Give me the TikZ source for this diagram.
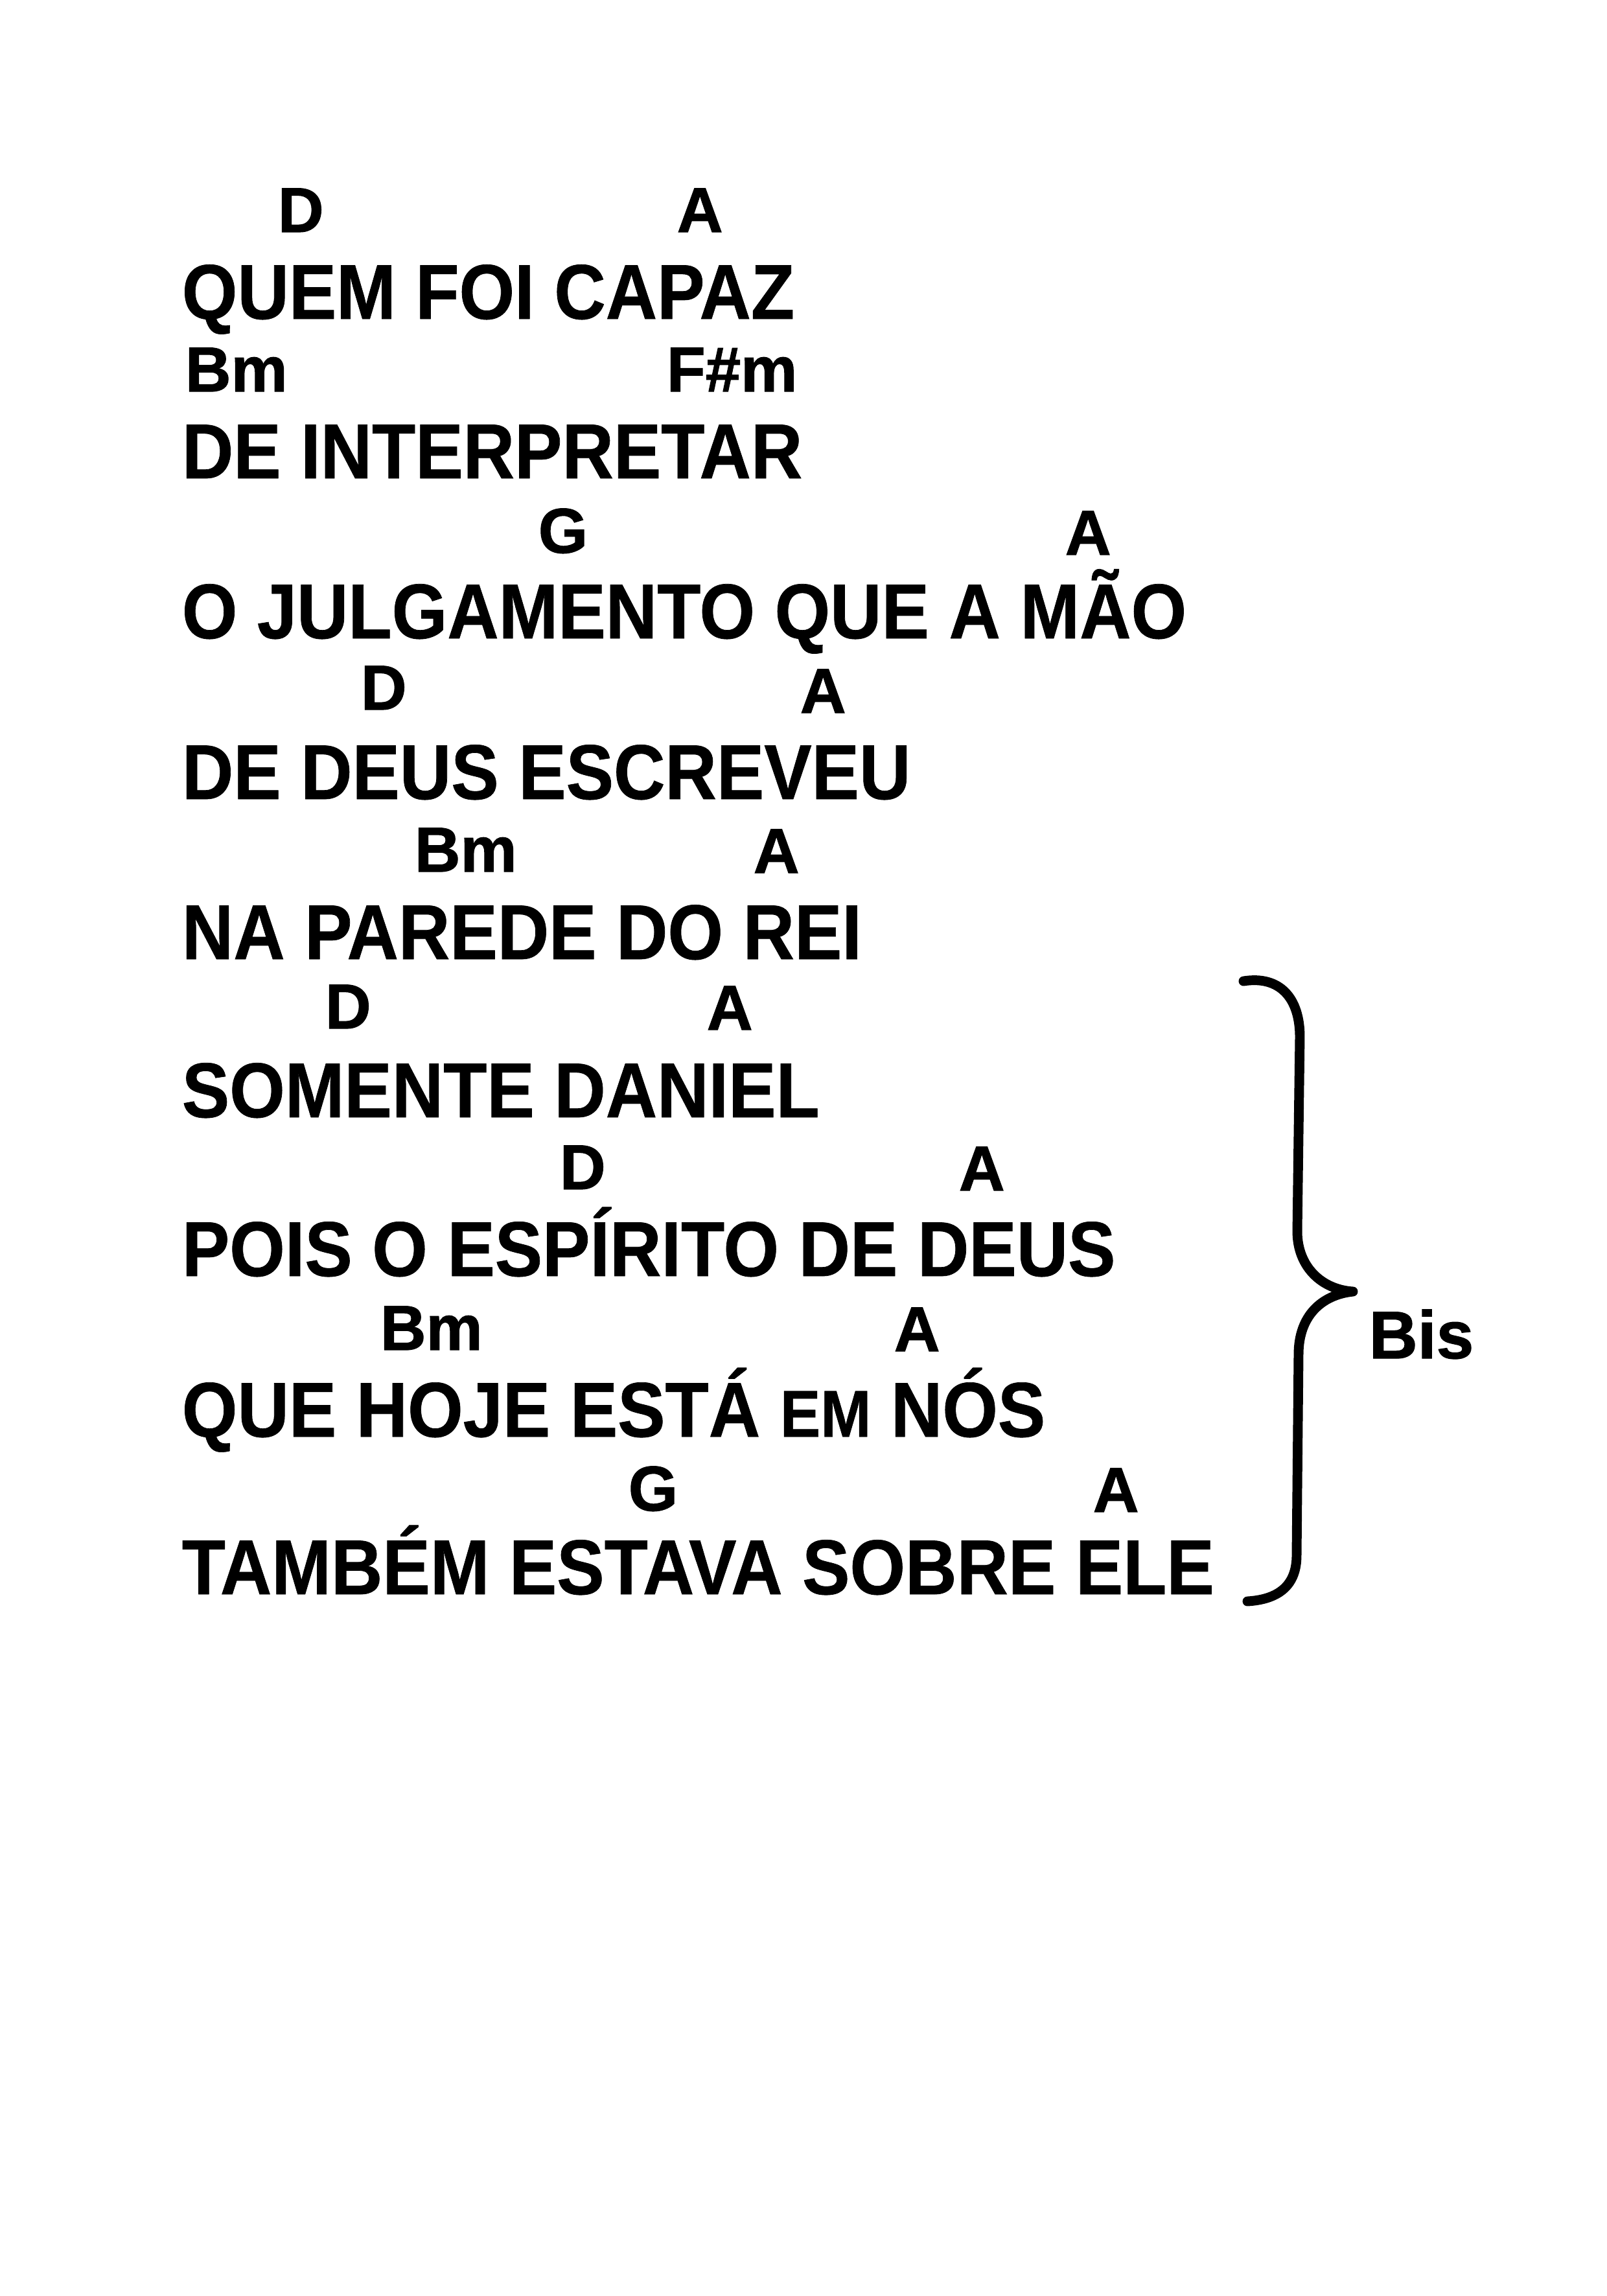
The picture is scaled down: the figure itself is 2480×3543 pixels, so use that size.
\documentclass[tikz,border=0pt]{standalone}
\usepackage{fontspec}
\newfontfamily\lyrfont{Liberation Sans}[FakeStretch=0.917, FakeBold=0.6]
\newfontfamily\chdfont{Liberation Sans}[FakeBold=1.2]
\tikzset{
  lyric/.style={anchor=base west, inner sep=0pt, font=\lyrfont\bfseries\fontsize{28.9pt}{30pt}\selectfont},
  chord/.style={anchor=base west, inner sep=0pt, font=\chdfont\bfseries\fontsize{23.6pt}{25pt}\selectfont},
  bistext/.style={anchor=base west, inner sep=0pt, font=\chdfont\bfseries\fontsize{25pt}{26pt}\selectfont},
  bracepath/.style={line width=3.6pt, line cap=round, line join=round}
}
\newcommand{\smallEM}{{\fontsize{24.6pt}{26pt}\selectfont EM}}
\begin{document}
\begin{tikzpicture}[x=0.2409pt, y=-0.2409pt]
\useasboundingbox (0,0) rectangle (2480,3543);
\fill[white] (0,0) rectangle (2480,3543);
% line 1
\node[chord] (c1a) at (428,358) {D};
\node[chord] (c1b) at (1044,358) {A};
\node[lyric] (l1) at (280,492) {QUEM FOI CAPAZ};
% line 2
\node[chord] (c2a) at (285,604) {Bm};
\node[chord] (c2b) at (1028,604) {F\#m};
\node[lyric] (l2) at (280,738) {DE INTERPRETAR};
% line 3
\node[chord] (c3a) at (830,853) {G};
\node[chord] (c3b) at (1643,856) {A};
\node[lyric] (l3) at (280,985) {O JULGAMENTO QUE A MÃO};
% line 4
\node[chord] (c4a) at (556,1095) {D};
\node[chord] (c4b) at (1234,1100) {A};
\node[lyric] (l4) at (280,1233) {DE DEUS ESCREVEU};
% line 5
\node[chord] (c5a) at (639,1345) {Bm};
\node[chord] (c5b) at (1162,1347) {A};
\node[lyric] (l5) at (280,1480) {NA PAREDE DO REI};
% line 6
\node[chord] (c6a) at (501,1587) {D};
\node[chord] (c6b) at (1090,1589) {A};
\node[lyric] (l6) at (280,1724) {SOMENTE DANIEL};
% line 7
\node[chord] (c7a) at (863,1835) {D};
\node[chord] (c7b) at (1479,1837) {A};
\node[lyric] (l7) at (280,1969) {POIS O ESPÍRITO DE DEUS};
% line 8
\node[chord] (c8a) at (586,2083) {Bm};
\node[chord] (c8b) at (1379,2085) {A};
\node[lyric] (l8) at (280,2217) {QUE HOJE ESTÁ \smallEM{} NÓS};
% line 9
\node[chord] (c9a) at (969,2331) {G};
\node[chord] (c9b) at (1686,2333) {A};
\node[lyric] (l9) at (280,2460) {TAMBÉM ESTAVA SOBRE ELE};
% brace
\draw[bracepath] (1919,1514) .. controls (1975,1505) and (2006,1540) .. (2006,1600)
  -- (2002,1900) .. controls (2002,1955) and (2040,1990) .. (2088,1993)
  .. controls (2040,1998) and (2004,2030) .. (2004,2090)
  -- (2001,2400) .. controls (2001,2445) and (1975,2468) .. (1925,2471);
\node[bistext] (bis) at (2112,2096) {Bis};
\end{tikzpicture}
\end{document}
